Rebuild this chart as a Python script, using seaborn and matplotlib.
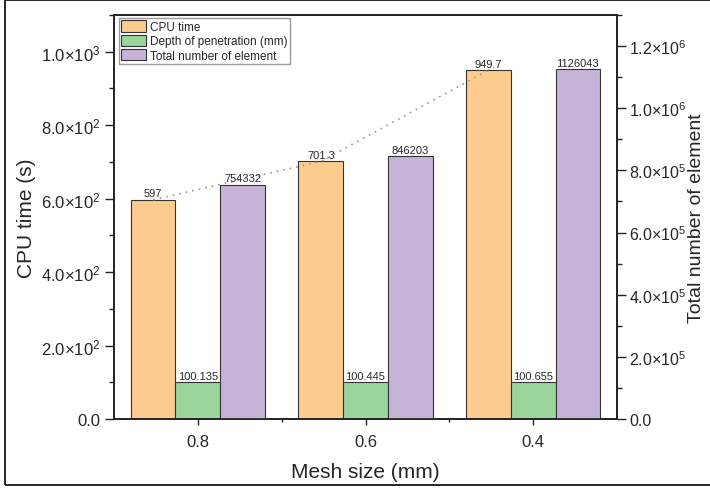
import pandas as pd
import matplotlib
matplotlib.use("Agg")
import matplotlib.pyplot as plt
from matplotlib.patches import Patch, Rectangle
from matplotlib.ticker import MultipleLocator, FixedLocator
import seaborn as sns

# datos
mesh_size = ["0.8", "0.6", "0.4"]
cpu_time = [597, 701.3, 949.7]
depth_pen = [100.135, 100.445, 100.655]
total_elem = [754332, 846203, 1126043]

series = ["CPU time", "Depth of penetration (mm)", "Total number of element"]
colores = {"CPU time": "#FECB8F", "Depth of penetration (mm)": "#9AD59B",
           "Total number of element": "#C6B4D8"}

left_ticks = [0, 200, 400, 600, 800, 1000]
left_labels = ["0.0", "2.0×10$^{2}$", "4.0×10$^{2}$", "6.0×10$^{2}$",
               "8.0×10$^{2}$", "1.0×10$^{3}$"]
right_ticks = [0, 200000, 400000, 600000, 800000, 1000000, 1200000]
right_labels = ["0.0", "2.0×10$^{5}$", "4.0×10$^{5}$", "6.0×10$^{5}$",
                "8.0×10$^{5}$", "1.0×10$^{6}$", "1.2×10$^{6}$"]

# tablas largas
df_izq = pd.DataFrame({
    "Mesh": mesh_size * 2,
    "Valor": cpu_time + depth_pen,
    "Serie": [series[0]] * 3 + [series[1]] * 3,
})
df_der = pd.DataFrame({"Mesh": mesh_size, "Valor": total_elem, "Serie": series[2]})

sns.set_style("ticks")
plt.rcParams["font.family"] = ["Liberation Sans", "DejaVu Sans"]
plt.rcParams["mathtext.fontset"] = "custom"
plt.rcParams["mathtext.rm"] = "Liberation Sans"
plt.rcParams["mathtext.default"] = "regular"

fig = plt.figure(figsize=(7.1, 4.89), dpi=100)
ax1 = fig.add_axes([0.1606, 0.1411, 0.7084, 0.8262])
ax2 = ax1.twinx()

borde = "#333333"
sns.barplot(data=df_izq, x="Mesh", y="Valor", hue="Serie", hue_order=series,
            palette=colores, order=mesh_size, errorbar=None, width=0.8, dodge=True,
            saturation=1, edgecolor=borde, linewidth=0.8, legend=False, ax=ax1)
sns.barplot(data=df_der, x="Mesh", y="Valor", hue="Serie", hue_order=series,
            palette=colores, order=mesh_size, errorbar=None, width=0.8, dodge=True,
            saturation=1, edgecolor=borde, linewidth=0.8, legend=False, ax=ax2)


def barras(ax):
    ps = [p for p in ax.patches if p.get_height() == p.get_height() and p.get_height() > 0]
    return sorted(ps, key=lambda p: p.get_x())


def etiquetar(ax, ps, textos):
    for p, t in zip(ps, textos):
        ax.annotate(t, (p.get_x() + p.get_width() / 2, p.get_height()),
                    xytext=(0, 1), textcoords="offset points", ha="center",
                    va="bottom", fontsize=8, color="#2a2a2a")


# etiquetas sobre las barras
barras_izq = barras(ax1)  # cpu, depth, cpu, depth...
textos_izq = []
for c, d in zip(cpu_time, depth_pen):
    textos_izq += [f"{c:g}", f"{d:g}"]
etiquetar(ax1, barras_izq, textos_izq)
etiquetar(ax2, barras(ax2), [str(v) for v in total_elem])

# línea punteada que une las barras de CPU
barras_cpu = barras_izq[0::2]
xs = [p.get_x() + p.get_width() / 2 for p in barras_cpu]
ys = [p.get_height() for p in barras_cpu]
ax1.plot(xs, ys, ls=(0, (1, 3)), color="#999999", lw=1.2, zorder=5)

# ejes
ax1.set_xlim(-0.5, 2.5)
ax1.set_ylim(0, 1100)
ax2.set_ylim(0, 1300000)

ax1.yaxis.set_major_locator(FixedLocator(left_ticks))
ax1.set_yticklabels(left_labels)
ax1.yaxis.set_minor_locator(MultipleLocator(100))
ax2.yaxis.set_major_locator(FixedLocator(right_ticks))
ax2.set_yticklabels(right_labels)
ax2.yaxis.set_minor_locator(MultipleLocator(100000))
ax1.xaxis.set_minor_locator(FixedLocator([0.5, 1.5]))

for ax in (ax1, ax2):
    for s in ax.spines.values():
        s.set_color("#222222")
        s.set_linewidth(1.2)
    ax.tick_params(which="major", direction="out", length=6.5, width=1,
                   labelsize=12, color="#222222")
    ax.tick_params(which="minor", direction="out", length=3.6, width=1,
                   color="#222222")
ax1.tick_params(axis="x", which="major", length=4.5, pad=6)
ax1.tick_params(axis="x", which="minor", length=2.5)
ax2.tick_params(axis="y", which="major", labelsize=11.5, pad=2.5)

ax1.set_xlabel("Mesh size (mm)", fontsize=15)
ax1.set_ylabel("CPU time (s)", fontsize=15)
ax2.set_ylabel("Total number of element", fontsize=14)
ax2.set_xlabel("")
ax1.yaxis.set_label_coords(-0.155, 0.5)
ax2.yaxis.set_label_coords(1.141, 0.5)
ax1.xaxis.set_label_coords(0.5, -0.106)

# leyenda
handles = [Patch(facecolor=colores[s], edgecolor=borde, linewidth=0.8) for s in series]
leg = ax2.legend(handles, series, loc="upper left", bbox_to_anchor=(0.01, 0.993),
                 borderaxespad=0, fontsize=8.5, frameon=True, fancybox=False,
                 edgecolor="#9a9a9a", framealpha=1, handlelength=2.1,
                 handleheight=1.1, labelspacing=0.15, borderpad=0.2,
                 handletextpad=0.3)
leg.get_frame().set_linewidth(1)

# marco exterior
fig.patches.append(Rectangle((5 / 710, 3 / 489), 1.0, 485 / 489, transform=fig.transFigure,
                             fill=False, edgecolor="black", linewidth=1.2))

plt.savefig("out.png", dpi=100)
